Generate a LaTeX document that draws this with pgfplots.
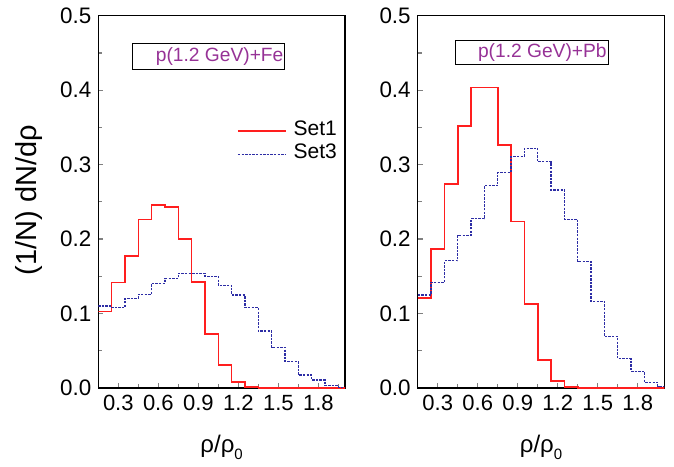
\documentclass[border=0pt]{standalone}
\usepackage{fontspec}
\setmainfont{Liberation Sans}
\usepackage{pgfplots}
\pgfplotsset{compat=1.18}

\definecolor{setred}{RGB}{255,30,30}
\definecolor{setblue}{RGB}{45,45,165}
\definecolor{boxpurple}{RGB}{150,50,150}

% histograms: left bin edge, height (bin width 0.1)
\pgfplotstableread{
x y
0.15 0.1025
0.25 0.1415
0.35 0.177
0.45 0.2265
0.55 0.2458
0.65 0.243
0.75 0.2005
0.85 0.142
0.95 0.0725
1.05 0.031
1.15 0.008
1.25 0.0015
1.35 0.0
2.05 0.0
}\FeSetOne
\pgfplotstableread{
x y
0.15 0.110
0.25 0.108
0.35 0.1204
0.45 0.126
0.55 0.1406
0.65 0.147
0.75 0.154
0.85 0.154
0.95 0.150
1.05 0.138
1.15 0.125
1.25 0.108
1.35 0.0765
1.45 0.0546
1.55 0.0353
1.65 0.0175
1.75 0.0107
1.85 0.003
1.95 0.001
2.05 0.001
}\FeSetThree
\pgfplotstableread{
x y
0.15 0.1208
0.25 0.187
0.35 0.274
0.45 0.352
0.55 0.4034
0.65 0.4034
0.75 0.3265
0.85 0.2236
0.95 0.1127
1.05 0.038
1.15 0.0098
1.25 0.001
1.35 0.0
2.05 0.0
}\PbSetOne
\pgfplotstableread{
x y
0.15 0.125
0.25 0.1418
0.35 0.1708
0.45 0.2048
0.55 0.2272
0.65 0.2715
0.75 0.2894
0.85 0.3108
0.95 0.322
1.05 0.304
1.15 0.266
1.25 0.2267
1.35 0.170
1.45 0.1163
1.55 0.0693
1.65 0.0394
1.75 0.0224
1.85 0.0076
1.95 0.002
2.05 0.002
}\PbSetThree

\pgfplotsset{
  panel/.style={
    scale only axis, width=123.35pt, height=186.15pt,
    anchor=south west,
    xmin=0.15, xmax=2.0, ymin=0, ymax=0.5,
    xtick={0.3,0.6,...,1.8},
    minor xtick={0.45,0.75,1.05,1.35,1.65,1.95},
    ytick={0,0.1,...,0.5},
    minor ytick={0.05,0.15,0.25,0.35,0.45},
    xtick pos=bottom, ytick pos=left, tick align=inside,
    major tick length=2.5pt, minor tick length=2pt,
    axis line style={line width=0.65pt},
    tick style={line width=0.6pt},
    /pgf/number format/assume math mode=true,
    xticklabel style={font=\fontsize{11}{13}\selectfont, /pgf/number format/.cd, fixed, fixed zerofill, precision=1},
    yticklabel style={font=\fontsize{11.2}{13}\selectfont, /pgf/number format/.cd, fixed, fixed zerofill, precision=1},
    scaled ticks=false,
    xlabel={ρ/ρ\raisebox{-0.55ex}{\fontsize{7.5}{8}\selectfont 0}},
    xlabel style={at={(axis description cs:0.5,-0.173)}, anchor=base, font=\fontsize{12}{14}\selectfont},
  },
  set one/.style={const plot mark left, draw=setred, line width=0.8pt},
  set three/.style={const plot mark left, draw=setblue, line width=0.65pt, dash pattern=on 1.2pt off 0.6pt},
}

\begin{document}
\begin{tikzpicture}
\path[use as bounding box] (0,0) rectangle (337pt,233pt);

\begin{axis}[panel, at={(49.15pt,39pt)},
  ylabel={(1/N) dN/dρ},
  ylabel style={at={(axis description cs:-0.281,0.505)}, anchor=center, font=\fontsize{14.5}{17}\selectfont},
  legend style={at={(axis cs:1.188,0.3295)}, anchor=west, draw=none, fill=none,
    inner sep=0pt, column sep=3.35pt, row sep=0pt,
    nodes={inner sep=0pt, text height=8pt, text depth=3.5pt},
    font=\fontsize{10.5}{12}\selectfont},
  legend cell align=left,
  legend image code/.code={\draw[#1] (0pt,0pt) -- (24.15pt,0pt);},
]
  \addplot[set one] table {\FeSetOne};
  \addlegendentry{Set1}
  \addplot[set three] table {\FeSetThree};
  \addlegendentry{Set3}
  \draw[line width=0.5pt] (axis cs:0.408,0.4284) rectangle (axis cs:1.55,0.462);
  \node[anchor=east, inner sep=0.6pt, text=boxpurple, font=\fontsize{9.6}{11}\selectfont]
    at (axis cs:1.55,0.4452) {p(1.2 GeV)+Fe};
\end{axis}

\begin{axis}[panel, at={(208.85pt,39pt)}]
  \addplot[set one] table {\PbSetOne};
  \addplot[set three] table {\PbSetThree};
  \draw[line width=0.5pt] (axis cs:0.435,0.4338) rectangle (axis cs:1.579,0.4664);
  \node[anchor=east, inner sep=0.6pt, text=boxpurple, font=\fontsize{9.6}{11}\selectfont]
    at (axis cs:1.579,0.4501) {p(1.2 GeV)+Pb};
\end{axis}
\end{tikzpicture}
\end{document}
